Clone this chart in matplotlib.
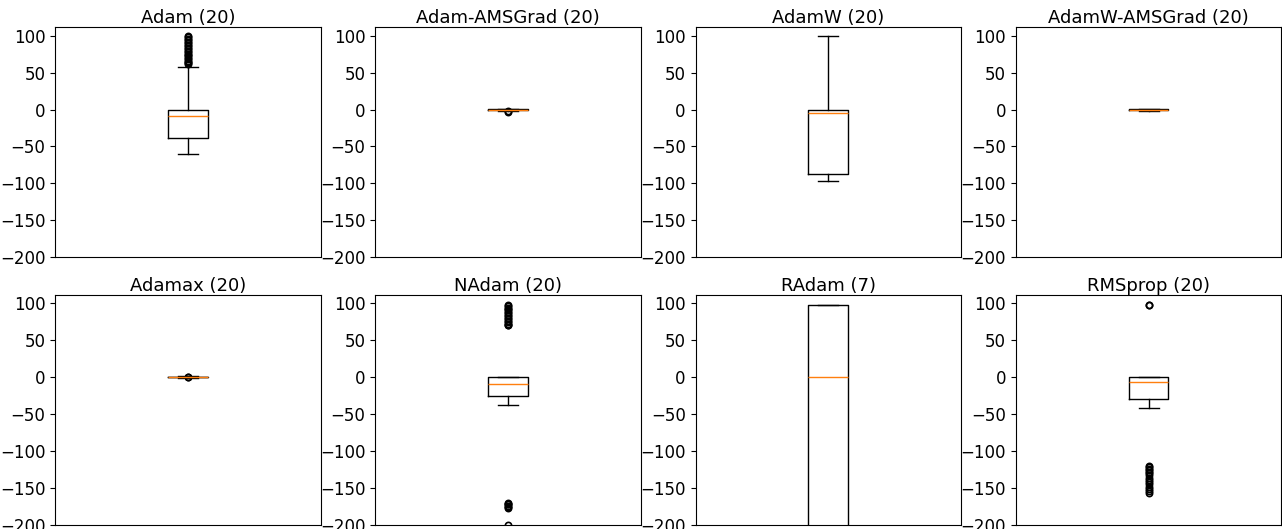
import numpy as np
import matplotlib
matplotlib.use("Agg")
import matplotlib.pyplot as plt

# optimizer name and run count shown in each title
optimizers = ["Adam", "Adam-AMSGrad", "AdamW", "AdamW-AMSGrad",
              "Adamax", "NAdam", "RAdam", "RMSprop"]
runs = [20, 20, 20, 20, 20, 20, 7, 20]

# box statistics
medians = [-9, 0, -4, 0, 0, -9, 0, -7]
q1s = [-39, -1, -88, -1, -0.5, -25, -300, -30]
q3s = [0, 0.5, 0, 0.3, 0.5, 0, 97, 0]
whis_lo = [-60, -2, -97, -2, -1, -38, -400, -42]
whis_hi = [58, 1, 100, 0.5, 1, 0, 98, 0]
fliers = [
    [62, 63, 64, 66, 68, 70, 72, 74, 76, 78, 80, 82, 84, 86, 88, 90,
     92, 94, 96, 98, 100],
    [-3, -2.5],
    [],
    [],
    [0, 0.5],
    [70, 71, 72, 74, 76, 78, 80, 82, 84, 86, 88, 90, 92, 94, 96, 98,
     -170, -171, -172, -174, -176, -177, -200],
    [],
    [97, 98, -120, -122, -124, -126, -128, -130, -133, -136, -139, -142,
     -145, -148, -151, -154, -157],
]

fig, axes = plt.subplots(2, 4, figsize=(12.82, 5.29), dpi=100)
fig.subplots_adjust(left=0.0429, right=0.9995, top=0.949, bottom=0.0076,
                    wspace=0.206, hspace=0.165)

for i, ax in enumerate(axes.flat):
    stats = [{
        "med": medians[i], "q1": q1s[i], "q3": q3s[i],
        "whislo": whis_lo[i], "whishi": whis_hi[i],
        "fliers": np.array(fliers[i]),
    }]
    ax.bxp(stats, positions=[1], widths=0.15,
           flierprops=dict(marker="o", markersize=4.5, markeredgewidth=1.2,
                           markerfacecolor="none"))
    ax.set_xlim(0.5, 1.5)
    ax.set_ylim(-200, 112 if i < 4 else 111)
    ax.set_xticks([])
    ax.set_yticks([100, 50, 0, -50, -100, -150, -200])
    ax.tick_params(axis="y", labelsize=12)
    ax.set_title(f"{optimizers[i]} ({runs[i]})", fontsize=13, pad=3)

fig.savefig("out.png", dpi=100)
